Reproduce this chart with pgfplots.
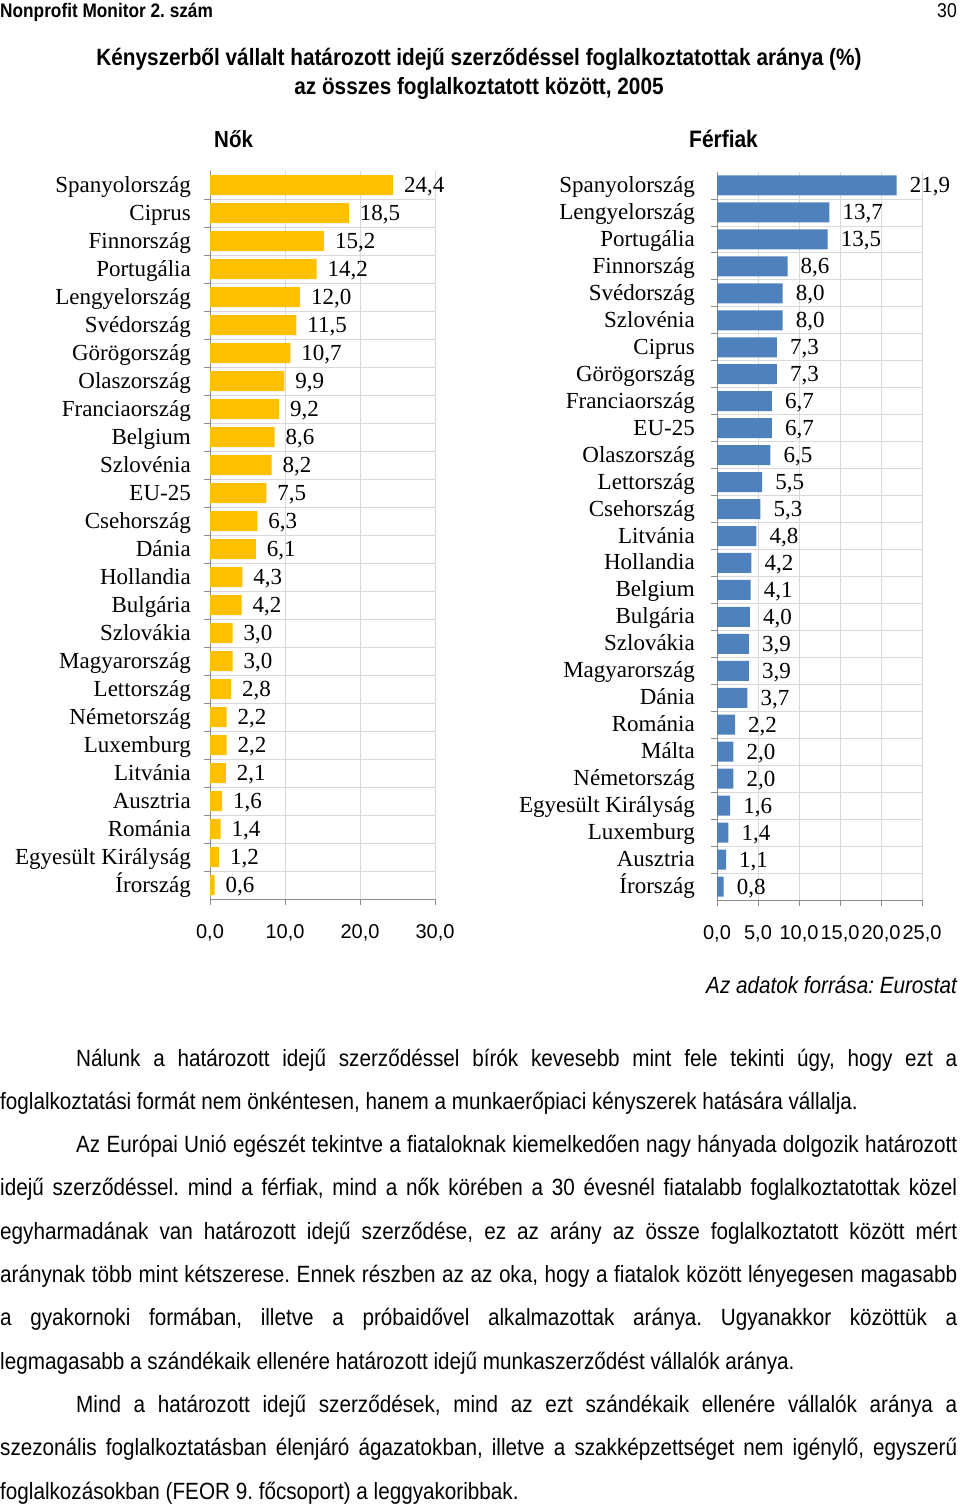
\documentclass[border=0pt]{standalone}
\usepackage{pgfplots}
\pgfplotsset{compat=1.18}
\usepackage{pgfplotstable}
\usepackage{fontspec}
\setmainfont{Liberation Sans}[FakeStretch=0.88]
\newfontfamily\arialf{Liberation Sans}
\newfontfamily\timesf{Liberation Serif}
\definecolor{gold}{HTML}{FFC000}
\definecolor{steel}{HTML}{4F81BD}
\definecolor{gridc}{HTML}{D9D9D9}
\definecolor{axc}{HTML}{8C8C8C}
\frenchspacing
\newcommand{\bodyfont}{\fontsize{23.5}{28}\selectfont}
\newcommand{\J}[2]{\node[anchor=base west, inner sep=0pt] at (0pt,-#1pt) {\bodyfont\makebox[957pt][s]{#2}};}
\newcommand{\R}[2]{\node[anchor=base west, inner sep=0pt] at (0pt,-#1pt) {\bodyfont #2};}

\pgfplotstableread{
idx val
25 24.4
24 18.5
23 15.2
22 14.2
21 12.0
20 11.5
19 10.7
18 9.9
17 9.2
16 8.6
15 8.2
14 7.5
13 6.3
12 6.1
11 4.3
10 4.2
9 3.0
8 3.0
7 2.8
6 2.2
5 2.2
4 2.1
3 1.6
2 1.4
1 1.2
0 0.6
}\nok

\pgfplotstableread{
idx val
26 21.9
25 13.7
24 13.5
23 8.6
22 8.0
21 8.0
20 7.3
19 7.3
18 6.7
17 6.7
16 6.5
15 5.5
14 5.3
13 4.8
12 4.2
11 4.1
10 4.0
9 3.9
8 3.9
7 3.7
6 2.2
5 2.0
4 2.0
3 1.6
2 1.4
1 1.1
0 0.8
}\ferfi

\pgfplotsset{
  mybars/.style={
    scale only axis,
    xbar,
    bar width=20pt,
    axis lines*=left,
    axis line style={axc, line width=0.8pt, -},
    tick align=outside,
    major tick length=6pt,
    minor tick length=6pt,
    tick style={axc, line width=0.8pt},
    major y tick style={draw=none},
    xmajorgrids,
    yminorgrids,
    grid style={gridc, line width=0.8pt},
    minor grid style={gridc, line width=0.8pt},
    xticklabel style={font=\arialf\fontsize{20}{20}\selectfont, yshift=-16pt},
    yticklabel style={font=\timesf\fontsize{23}{23}\selectfont, anchor=base east, inner sep=0pt, yshift=-7pt},
    point meta=x,
    nodes near coords={\pgfmathprintnumber[fixed,fixed zerofill,precision=1,use comma,assume math mode=true]{\pgfplotspointmeta}},
    every node near coord/.append style={font=\timesf\fontsize{23}{23}\selectfont, anchor=base west, inner sep=0pt, text=black, yshift=-7.5pt},
  }
}

\begin{document}
\begin{tikzpicture}
\path (0pt,0pt) rectangle (960pt,-1507pt);

% header
\node[anchor=base west, inner sep=0pt] at (0pt,-17pt) {\bfseries\fontsize{19.6}{20}\selectfont Nonprofit Monitor 2. szám};
\node[anchor=base east, inner sep=0pt] at (957pt,-17pt) {\fontsize{20}{20}\selectfont 30};

% title
\node[anchor=base, inner sep=0pt] at (479pt,-65pt) {\bfseries\fontsize{23.6}{24}\selectfont Kényszerből vállalt határozott idejű szerződéssel foglalkoztatottak aránya (\%)};
\node[anchor=base, inner sep=0pt] at (479pt,-94pt) {\bfseries\fontsize{23.6}{24}\selectfont az összes foglalkoztatott között, 2005};

\node[anchor=base west, inner sep=0pt] at (214pt,-147pt) {\bfseries\fontsize{23.3}{24}\selectfont Nők};
\node[anchor=base west, inner sep=0pt] at (689pt,-147pt) {\bfseries\fontsize{23.8}{24}\selectfont Férfiak};

\begin{axis}[mybars,
  at={(210pt,-171pt)}, anchor=north west,
  width=225pt, height=728pt,
  xmin=0, xmax=30, ymin=-0.5, ymax=25.5,
  xtick={0,10,20,30},
  xticklabels={{0,0},{10,0},{20,0},{30,0}},
  ytick={0,...,25},
  yticklabels={Írország, Egyesült Királyság, Románia, Ausztria, Litvánia, Luxemburg, Németország, Lettország, Magyarország, Szlovákia, Bulgária, Hollandia, Dánia, Csehország, EU-25, Szlovénia, Belgium, Franciaország, Olaszország, Görögország, Svédország, Lengyelország, Portugália, Finnország, Ciprus, Spanyolország},
  minor ytick={0.5,1.5,...,24.5},
  yticklabel style={xshift=-13pt},
  every node near coord/.append style={xshift=11pt},
]
\addplot[draw=none, fill=gold] table[x=val, y=idx] {\nok};
\end{axis}

\begin{axis}[mybars,
  at={(717pt,-172pt)}, anchor=north west,
  width=205pt, height=728pt,
  xmin=0, xmax=25, ymin=-0.5, ymax=26.5,
  xtick={0,5,10,15,20,25},
  xticklabels={{0,0},{5,0},{10,0},{15,0},{20,0},{25,0}},
  ytick={0,...,26},
  yticklabels={Írország, Ausztria, Luxemburg, Egyesült Királyság, Németország, Málta, Románia, Dánia, Magyarország, Szlovákia, Bulgária, Belgium, Hollandia, Litvánia, Csehország, Lettország, Olaszország, EU-25, Franciaország, Görögország, Ciprus, Szlovénia, Svédország, Finnország, Portugália, Lengyelország, Spanyolország},
  minor ytick={0.5,1.5,...,25.5},
  yticklabel style={xshift=-16pt},
  every node near coord/.append style={xshift=13pt},
]
\addplot[draw=none, fill=steel] table[x=val, y=idx] {\ferfi};
\end{axis}

\node[anchor=base east, inner sep=0pt] at (957pt,-993pt) {\itshape\bodyfont Az adatok forrása: Eurostat};

\J{1066}{\hspace*{76pt}Nálunk a határozott idejű szerződéssel bírók kevesebb mint fele tekinti úgy, hogy ezt a}
\R{1109.3}{foglalkoztatási formát nem önkéntesen, hanem a munkaerőpiaci kényszerek hatására vállalja.}
\J{1152.6}{\hspace*{76pt}Az Európai Unió egészét tekintve a fiataloknak kiemelkedően nagy hányada dolgozik határozott}
\J{1195.9}{idejű szerződéssel. mind a férfiak, mind a nők körében a 30 évesnél fiatalabb foglalkoztatottak közel}
\J{1239.2}{egyharmadának van határozott idejű szerződése, ez az arány az össze foglalkoztatott között mért}
\J{1282.5}{aránynak több mint kétszerese. Ennek részben az az oka, hogy a fiatalok között lényegesen magasabb}
\J{1325.8}{a gyakornoki formában, illetve a próbaidővel alkalmazottak aránya. Ugyanakkor közöttük a}
\R{1369.1}{legmagasabb a szándékaik ellenére határozott idejű munkaszerződést vállalók aránya.}
\J{1412.4}{\hspace*{76pt}Mind a határozott idejű szerződések, mind az ezt szándékaik ellenére vállalók aránya a}
\J{1455.7}{szezonális foglalkoztatásban élenjáró ágazatokban, illetve a szakképzettséget nem igénylő, egyszerű}
\R{1499}{foglalkozásokban (FEOR 9. főcsoport) a leggyakoribbak.}
\end{tikzpicture}
\end{document}
